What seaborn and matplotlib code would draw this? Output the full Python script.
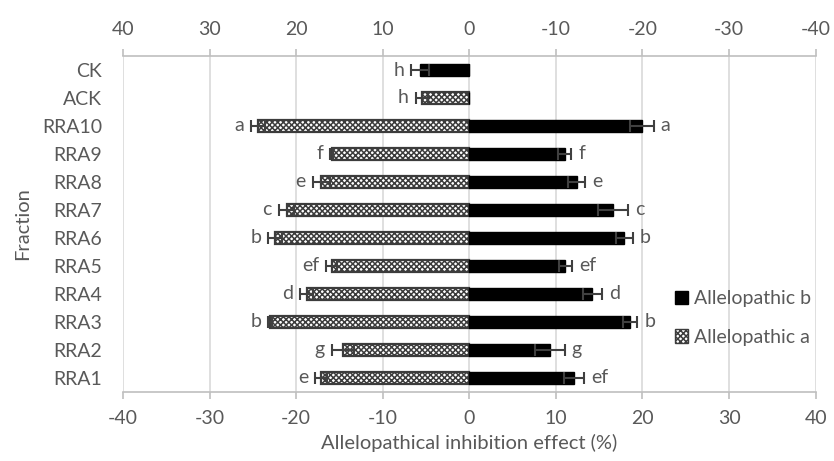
import numpy as np
import pandas as pd
import matplotlib
matplotlib.use("Agg")
import matplotlib.pyplot as plt
import seaborn as sns
from matplotlib.patches import Patch

categories = ['CK', 'ACK', 'RRA10', 'RRA9', 'RRA8', 'RRA7', 'RRA6', 'RRA5',
              'RRA4', 'RRA3', 'RRA2', 'RRA1']
a_vals = [0, -5.5, -24.4, -15.9, -17.1, -21.1, -22.4, -15.9, -18.8, -23.0, -14.6, -17.1]
a_err = [0, 0.7, 0.8, 0.2, 1.0, 0.9, 0.8, 0.6, 0.8, 0.2, 1.3, 0.7]
b_vals = [-5.7, 0, 19.9, 11.0, 12.4, 16.6, 17.9, 11.1, 14.2, 18.6, 9.3, 12.1]
b_err = [1.0, 0, 1.4, 0.8, 1.0, 1.7, 1.0, 0.8, 1.1, 0.8, 1.7, 1.2]
a_letters = ['', 'h', 'a', 'f', 'e', 'c', 'b', 'ef', 'd', 'b', 'g', 'e']
b_letters = ['h', '', 'a', 'f', 'e', 'c', 'b', 'ef', 'd', 'b', 'g', 'ef']
xticks = [-40, -30, -20, -10, 0, 10, 20, 30, 40]

sns.set_style("white")
plt.rcParams['font.family'] = ['Lato', 'DejaVu Sans']
plt.rcParams['axes.unicode_minus'] = False
plt.rcParams['hatch.linewidth'] = 1.1
gray = '#595959'
grid_c = '#d9d9d9'
fs = 14

df = pd.DataFrame({'Fraction': categories, 'a': a_vals, 'b': b_vals})

fig = plt.figure(figsize=(8.34, 4.61), dpi=100)
ax = fig.add_axes([0.1475, 0.15, 0.8305, 0.7285])

# hatched series (Allelopathic a)
n0 = len(ax.patches)
sns.barplot(data=df, x='a', y='Fraction', order=categories, orient='h',
            color='white', width=0.42, ax=ax)
for p in ax.patches[n0:]:
    p.set_hatch('xxxxxx')
    p.set_facecolor('white')
    p.set_edgecolor('#3c3c3c')
    p.set_linewidth(1.6)

# solid series (Allelopathic b)
n1 = len(ax.patches)
sns.barplot(data=df, x='b', y='Fraction', order=categories, orient='h',
            color='black', width=0.42, ax=ax)
for p in ax.patches[n1:]:
    p.set_facecolor('black')
    p.set_edgecolor('black')

ypos = np.arange(len(categories))
for vals, errs, letters in [(a_vals, a_err, a_letters), (b_vals, b_err, b_letters)]:
    vals = np.array(vals)
    errs = np.array(errs)
    m = errs > 0
    ax.errorbar(vals[m], ypos[m], xerr=errs[m], fmt='none', ecolor='#404040',
                elinewidth=1.5, capsize=4, capthick=1.5, zorder=3)
    for y, v, e, t in zip(ypos, vals, errs, letters):
        if not t:
            continue
        end = v - e if v < 0 else v + e
        off = -5 if v < 0 else 5
        ha = 'right' if v < 0 else 'left'
        ax.annotate(t, (end, y), xytext=(off, 0), textcoords='offset points',
                    ha=ha, va='center', fontsize=fs, color=gray)

ax.set_xlim(-40, 40)
ax.set_ylim(11.5, -0.5)
ax.set_xticks(xticks)
ax.set_xticklabels([str(t) for t in xticks])
ax.grid(axis='x', color=grid_c, linewidth=1.2)
ax.set_axisbelow(True)
for s in ['left', 'right']:
    ax.spines[s].set_visible(False)
for s in ['top', 'bottom']:
    ax.spines[s].set_color('#bfbfbf')
    ax.spines[s].set_linewidth(1.2)
ax.tick_params(axis='x', colors='#bfbfbf', labelcolor=gray, labelsize=fs,
               length=5, width=1.2, direction='out', bottom=True, pad=8)
ax.tick_params(axis='y', colors=gray, labelsize=fs, length=0, pad=15)

sec = ax.secondary_xaxis('top')
sec.set_xticks(xticks)
sec.set_xticklabels([str(-t) for t in xticks])
sec.spines['top'].set_visible(False)
sec.tick_params(axis='x', colors='#bfbfbf', labelcolor=gray, labelsize=fs,
                length=5, width=1.2, direction='out', pad=8)

ax.set_xlabel('Allelopathical inhibition effect (%)', fontsize=14.5, color=gray, labelpad=5)
ax.set_ylabel('Fraction', fontsize=14.5, color=gray, labelpad=8)

handles = [Patch(facecolor='black', edgecolor='black', label='Allelopathic b'),
           Patch(facecolor='white', edgecolor='#3c3c3c', hatch='xxxxxx', label='Allelopathic a')]
leg = ax.legend(handles=handles, loc='center left', bbox_to_anchor=(0.785, 0.22),
                frameon=False, fontsize=fs, handlelength=0.7, handleheight=0.7,
                handletextpad=0.3, labelspacing=1.1, borderaxespad=0)
for t in leg.get_texts():
    t.set_color(gray)

fig.savefig('out.png', dpi=100)
